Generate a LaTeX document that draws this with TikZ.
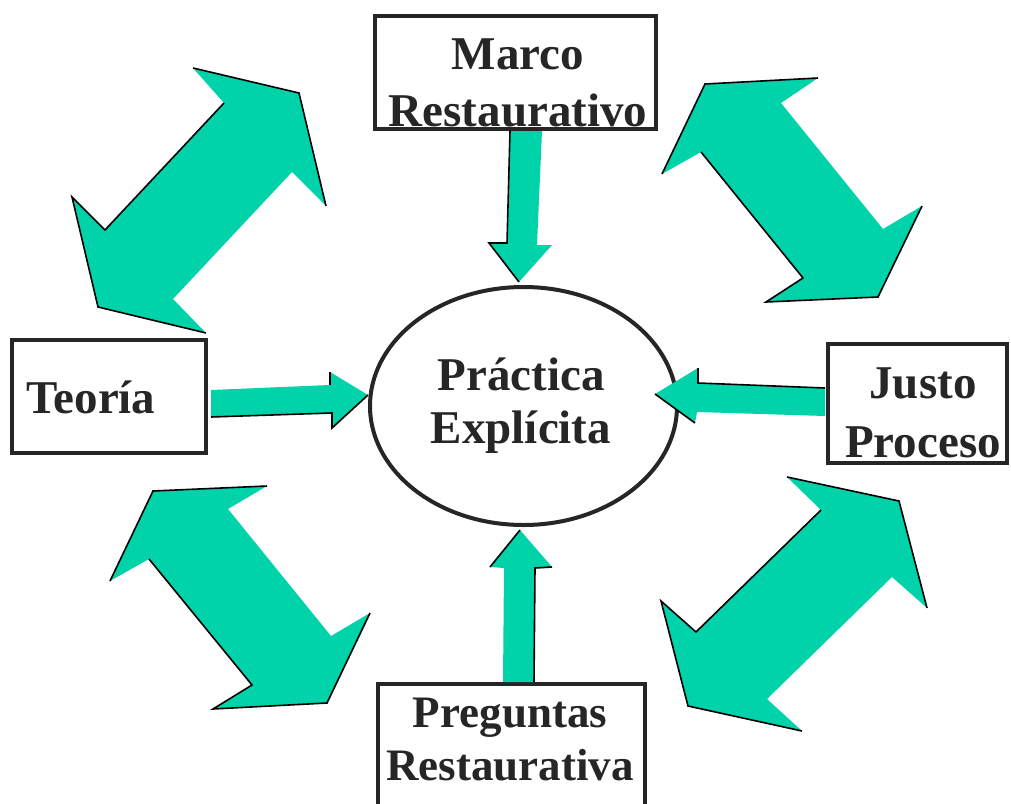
\documentclass[tikz,border=0pt]{standalone}
\usepackage{fontspec}
\setmainfont{Liberation Serif}
\usetikzlibrary{shapes.geometric}
\definecolor{arrowgreen}{RGB}{0,210,170}
\tikzset{
  box/.style={draw=black!85, line width=4pt, rectangle, inner sep=0pt},
  hub/.style={draw=black!85, line width=4pt, ellipse, inner sep=0pt},
  lbl/.style={inner sep=0pt, anchor=base, text=black!85},
  blockfill/.style={fill=arrowgreen, draw=none},
  rim/.style={draw=black, line width=1.6pt, line join=miter, line cap=butt},
}
\newcommand{\lines}[3]{\fontsize{#1}{#2}\selectfont\bfseries\begin{tabular}[t]{@{}c@{}}#3\end{tabular}}
\begin{document}
\begin{tikzpicture}[x=1pt,y=-1pt]
\useasboundingbox (0,0) rectangle (1011,803);
\clip (0,0) rectangle (1011,803);
\fill[white] (0,0) rectangle (1011,803);

% boxes and hub
\node[box, minimum width=281, minimum height=113] (marco) at (515.5,72.5) {};
\node[box, minimum width=194, minimum height=113] (teoria) at (109,396.5) {};
\node[box, minimum width=179, minimum height=119] (justo) at (917.5,403.5) {};
\node[box, minimum width=267, minimum height=128] (preg) at (511.5,748) {};
\node[hub, minimum width=307, minimum height=238] (hub) at (523.5,406) {};

% labels
\node[lbl] (tmarco) at (518,69) {\lines{47}{57}{Marco\\Restaurativo}};
\node[lbl] (tteoria) at (91,413) {\lines{47}{57}{Teoría}};
\node[lbl] (tjusto) at (923,398) {\lines{47}{59}{Justo\\Proceso}};
\node[lbl] (tpreg) at (510,727) {\lines{45}{53}{Preguntas\\Restaurativa}};
\node[lbl] (thub) at (521,390) {\lines{47}{53}{Práctica\\Explícita}};

% double arrow top-left
\coordinate (a1) at (299,93);  \coordinate (a2) at (326,206);
\coordinate (a3) at (292,172); \coordinate (a4) at (173,299);
\coordinate (a5) at (206,333); \coordinate (a6) at (98,307);
\coordinate (a7) at (72,197);  \coordinate (a8) at (105,230);
\coordinate (a9) at (224,103); \coordinate (a10) at (193,68);
\path[blockfill] (a1)--(a2)--(a3)--(a4)--(a5)--(a6)--(a7)--(a8)--(a9)--(a10)--cycle;
\draw[rim] (a9)--(a8)--(a7)--(a6)--(a5);
\draw[rim] (a10)--(a1)--(a2);

% double arrow top-right
\coordinate (b1) at (705,84);  \coordinate (b2) at (818,78);
\coordinate (b3) at (781,103); \coordinate (b4) at (883,229);
\coordinate (b5) at (922,206); \coordinate (b6) at (878,297);
\coordinate (b7) at (766,302); \coordinate (b8) at (803,278);
\coordinate (b9) at (701,152); \coordinate (b10) at (662,174);
\path[blockfill] (b1)--(b2)--(b3)--(b4)--(b5)--(b6)--(b7)--(b8)--(b9)--(b10)--cycle;
\draw[rim] (b10)--(b1)--(b2);
\draw[rim] (b9)--(b8)--(b7)--(b6)--(b5);

% double arrow bottom-left
\coordinate (c1) at (153,491); \coordinate (c2) at (267,486);
\coordinate (c3) at (228,509); \coordinate (c4) at (331,636);
\coordinate (c5) at (370,613); \coordinate (c6) at (327,703);
\coordinate (c7) at (213,709); \coordinate (c8) at (252,685);
\coordinate (c9) at (149,559); \coordinate (c10) at (110,581);
\path[blockfill] (c1)--(c2)--(c3)--(c4)--(c5)--(c6)--(c7)--(c8)--(c9)--(c10)--cycle;
\draw[rim] (c10)--(c1)--(c2);
\draw[rim] (c9)--(c8)--(c7)--(c6)--(c5);

% double arrow bottom-right
\coordinate (d1) at (899,501); \coordinate (d2) at (927,608);
\coordinate (d3) at (892,577); \coordinate (d4) at (767,699);
\coordinate (d5) at (802,731); \coordinate (d6) at (688,706);
\coordinate (d7) at (661,601); \coordinate (d8) at (696,632);
\coordinate (d9) at (821,510); \coordinate (d10) at (787,477);
\path[blockfill] (d1)--(d2)--(d3)--(d4)--(d5)--(d6)--(d7)--(d8)--(d9)--(d10)--cycle;
\draw[rim] (d10)--(d1)--(d2);
\draw[rim] (d9)--(d8)--(d7)--(d6)--(d5);

% Marco -> hub
\path[blockfill] (510,131)--(542,131)--(537,245)--(552,245)--(519,282)--(489,243)--(507,243)--cycle;
\draw[rim] (510,131)--(507,243)--(489,243)--(519,282);

% Teoria -> hub
\path[blockfill] (211,390)--(330,385)--(330,372)--(368,395)--(332,428)--(332,413)--(211,417)--cycle;
\draw[rim] (330,372)--(330,385);
\draw[rim] (211,417)--(332,413)--(332,428)--(368,395);

% Justo -> hub
\path[blockfill] (825,388)--(698,383)--(698,368)--(655,394)--(695,423)--(697,412)--(825,416)--cycle;
\draw[rim] (825,388)--(698,383)--(698,368);
\draw[rim] (655,394)--(695,423);

% Preguntas -> hub
\path[blockfill] (503,682)--(504,568)--(490,567)--(520,530)--(552,567)--(535,568)--(534,682)--cycle;
\draw[rim] (490,567)--(520,530);
\draw[rim] (552,567)--(535,568)--(534,682);
\end{tikzpicture}
\end{document}
